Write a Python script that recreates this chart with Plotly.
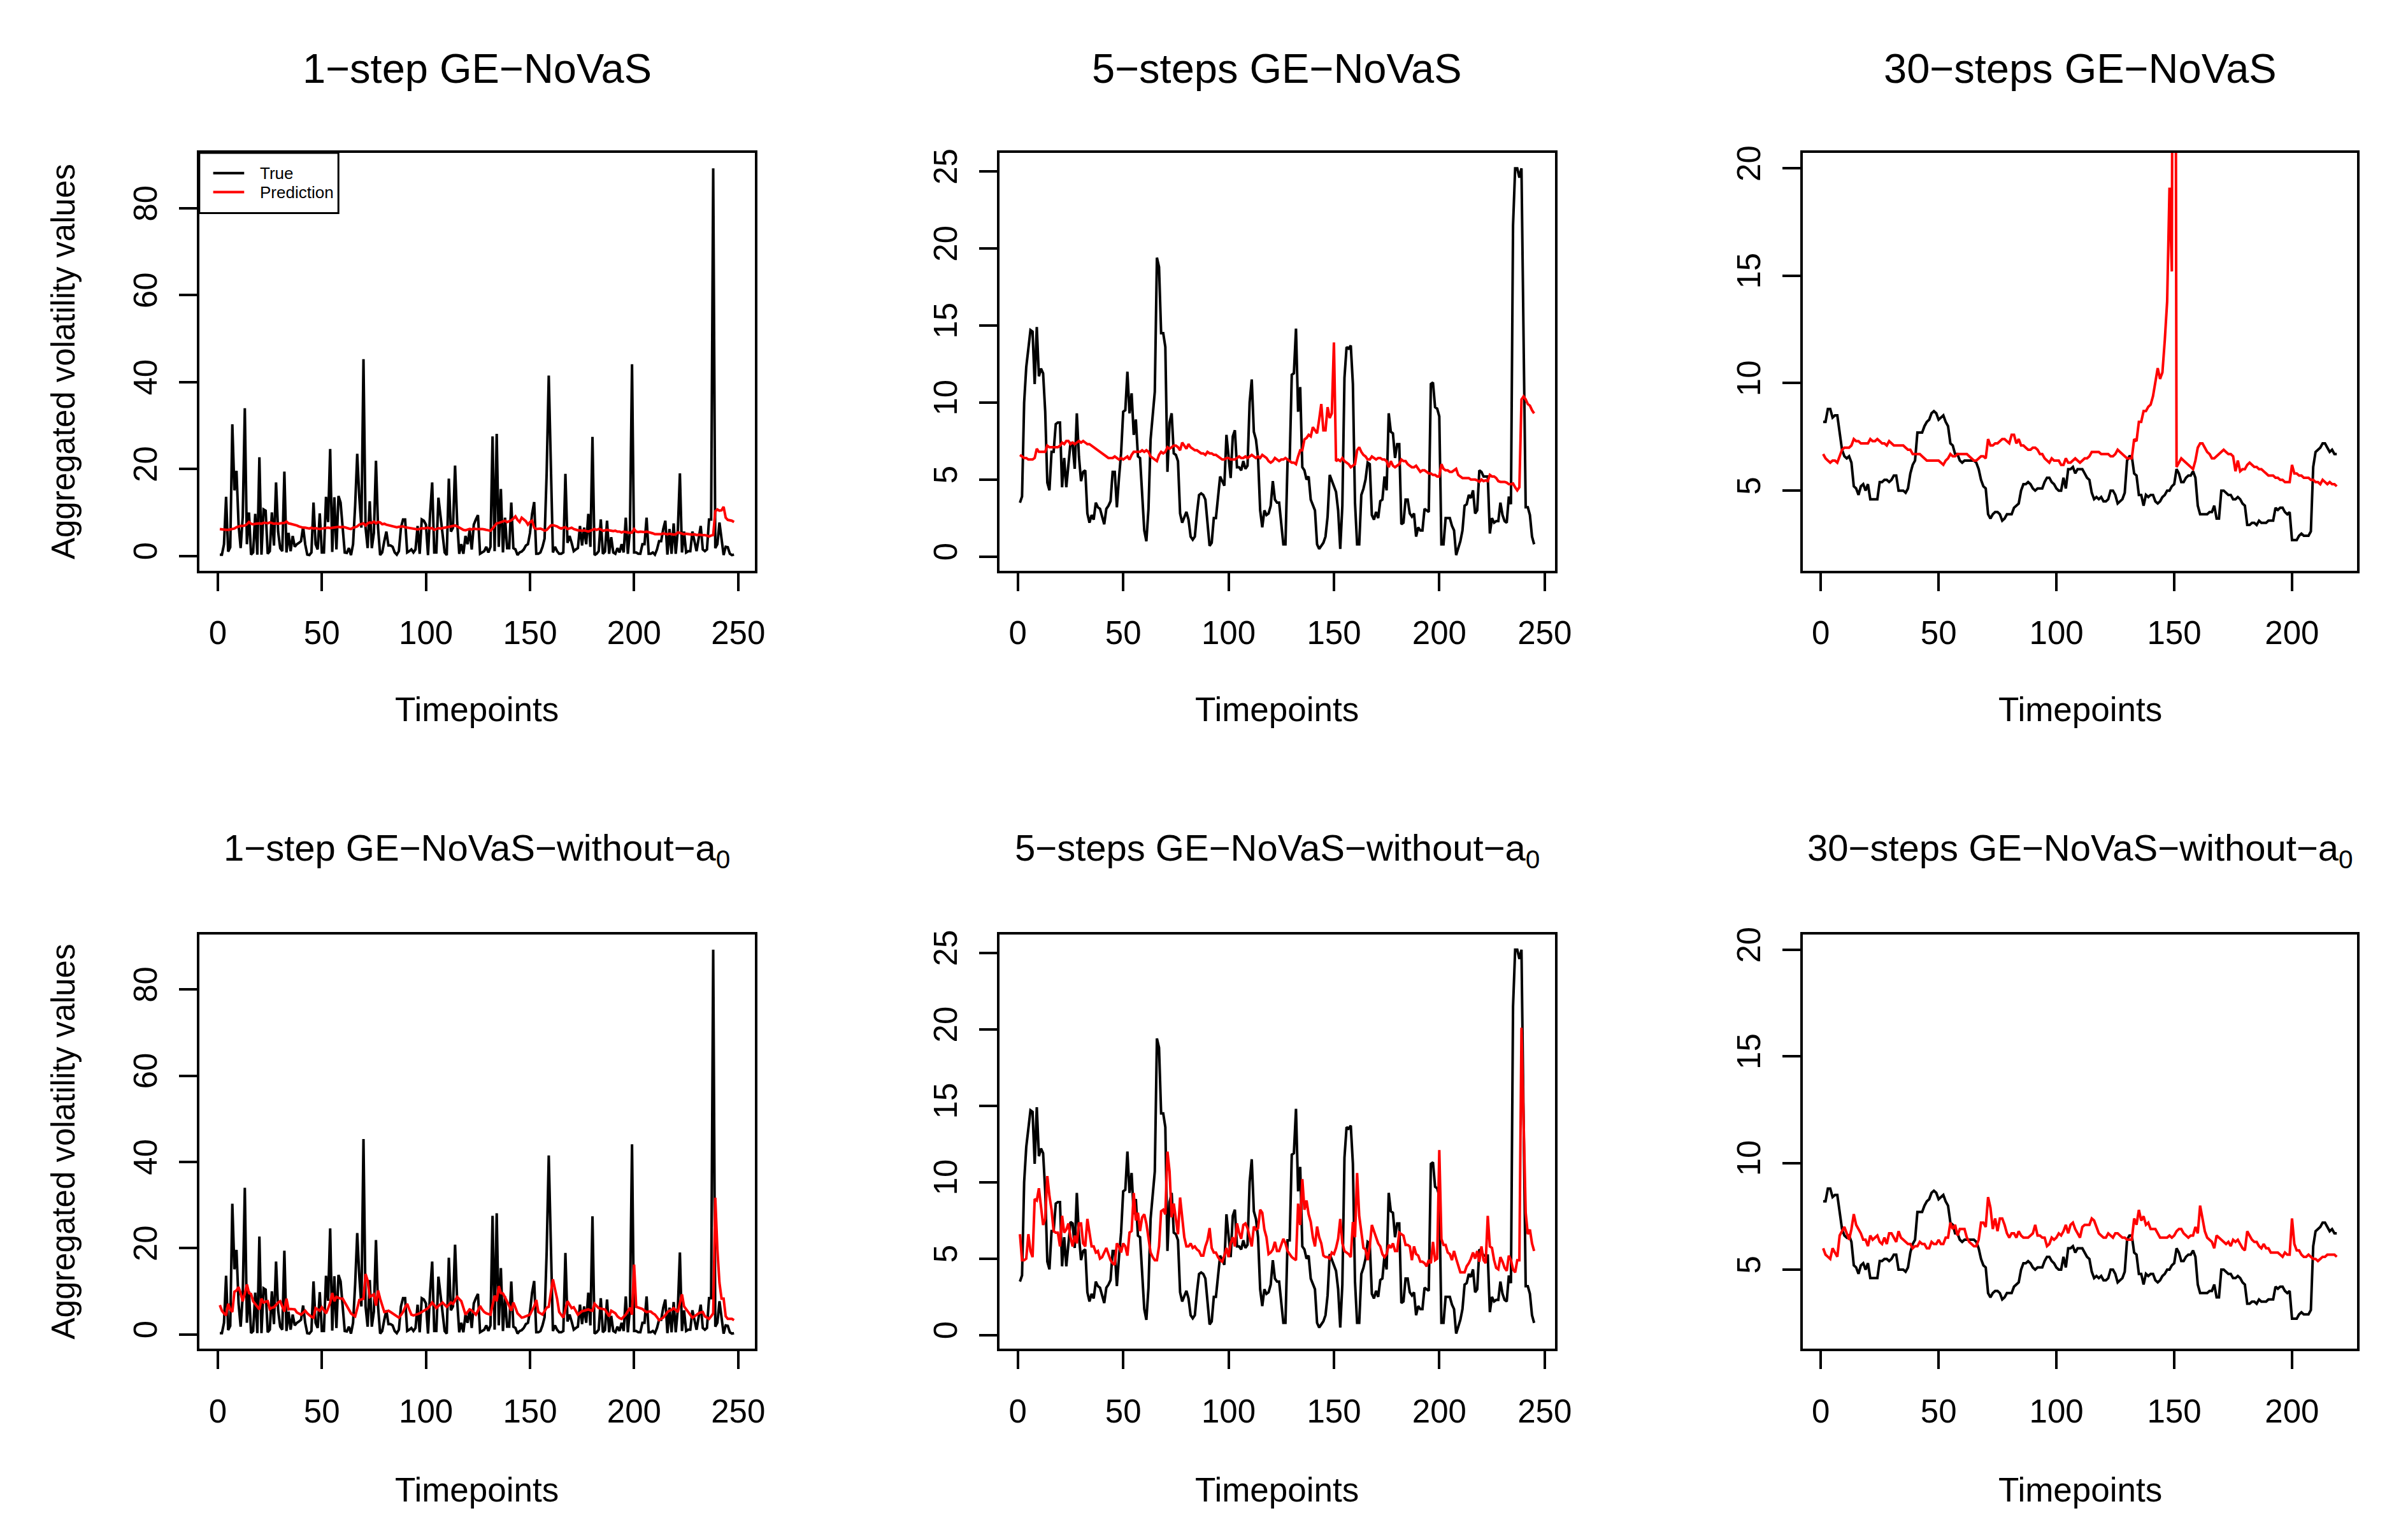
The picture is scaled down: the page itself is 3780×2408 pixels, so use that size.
import plotly.graph_objects as go

# ---------------- data ----------------
true_1step = [0.3, 0.3, 2.7, 13.6, 1.0, 2.0, 30.3, 15.1, 19.6, 7.2,
 1.8, 9.0, 34.0, 2.7, 10.0, 0.3, 0.8, 9.7, 0.3, 22.7,
 0.3, 10.7, 10.4, 0.5, 1.1, 10.0, 2.4, 16.9, 5.6, 1.8,
 1.1, 19.4, 0.8, 5.3, 1.1, 4.6, 2.1, 2.7, 3.0, 3.4,
 6.7, 2.7, 0.3, 0.2, 0.8, 12.3, 2.7, 1.5, 9.8, 0.8,
 0.8, 13.6, 7.8, 24.6, 0.9, 13.5, 1.5, 13.8, 12.3, 7.2,
 0.8, 0.7, 1.8, 0.2, 2.7, 11.6, 23.5, 13.5, 6.5, 45.3,
 6.5, 1.8, 12.6, 1.8, 5.3, 21.9, 6.5, 0.2, 0.8, 3.4,
 5.6, 2.4, 2.4, 2.1, 0.8, 0.3, 1.1, 6.5, 8.4, 8.4,
 0.8, 1.1, 1.5, 0.8, 1.5, 6.9, 0.5, 8.4, 8.1, 7.2,
 0.2, 9.7, 16.9, 0.8, 0.8, 13.4, 9.1, 5.3, 0.8, 0.2,
 17.8, 5.6, 6.5, 20.8, 7.8, 0.5, 2.7, 0.5, 4.6, 2.7,
 5.9, 1.5, 7.2, 8.4, 9.4, 0.5, 0.8, 1.1, 2.1, 0.8,
 2.1, 27.5, 1.1, 28.1, 2.1, 15.4, 0.8, 8.8, 1.8, 1.8,
 12.3, 1.8, 1.5, 0.2, 0.8, 1.0, 1.5, 2.4, 2.7, 5.3,
 9.7, 12.4, 0.5, 0.5, 0.8, 2.1, 4.0, 19.2, 41.5, 19.9,
 0.8, 2.1, 1.1, 0.5, 0.5, 0.8, 18.9, 3.0, 4.6, 3.0,
 1.1, 1.5, 1.8, 6.9, 2.4, 6.5, 2.7, 9.7, 2.1, 27.4,
 0.2, 0.5, 1.1, 8.4, 0.5, 1.0, 8.1, 0.5, 4.3, 0.8,
 0.5, 1.8, 0.8, 2.7, 0.8, 8.8, 0.5, 5.9, 44.1, 0.8,
 0.8, 0.5, 0.5, 2.7, 2.7, 8.8, 0.5, 0.5, 0.8, 0.3,
 1.5, 3.4, 3.4, 6.2, 8.1, 0.3, 6.2, 0.5, 7.5, 0.5,
 5.9, 19.0, 0.8, 5.6, 0.8, 1.1, 1.1, 5.6, 3.4, 1.1,
 4.0, 6.9, 1.5, 1.1, 1.5, 8.4, 8.4, 89.2, 1.8, 2.7,
 7.7, 3.4, 0.2, 2.1, 2.0, 0.5, 0.2, 0.3]

pred_1step = [6.2, 6.1, 6.1, 6.0, 6.0, 6.1, 6.2, 6.3, 6.6, 6.8,
 6.9, 6.9, 7.0, 7.3, 7.8, 7.4, 7.3, 7.4, 7.5, 7.5,
 7.4, 7.6, 7.6, 7.5, 7.7, 7.5, 7.4, 7.5, 7.4, 7.5,
 7.5, 7.6, 7.9, 7.5, 7.4, 7.3, 7.2, 7.0, 6.8, 6.6,
 6.5, 6.5, 6.4, 6.3, 6.5, 6.3, 6.4, 6.3, 6.2, 6.3,
 6.4, 6.4, 6.5, 6.4, 6.5, 6.5, 6.6, 6.7, 6.6, 6.7,
 6.6, 6.4, 6.3, 6.2, 6.5, 6.6, 6.8, 7.2, 7.3, 7.5,
 7.0, 7.5, 7.7, 7.6, 7.9, 7.5, 7.8, 7.7, 7.3, 7.4,
 7.2, 7.1, 7.0, 6.9, 6.7, 6.6, 6.7, 6.8, 6.8, 6.6,
 6.5, 6.4, 6.4, 6.3, 6.2, 6.1, 6.2, 6.4, 6.3, 6.4,
 6.5, 6.3, 6.4, 6.0, 6.2, 6.4, 6.3, 6.4, 6.5, 6.6,
 6.6, 6.8, 6.9, 7.0, 6.8, 6.5, 6.2, 6.0, 5.9, 6.0,
 6.2, 6.1, 6.3, 6.2, 6.2, 6.3, 6.2, 6.1, 6.0, 6.0,
 5.8, 6.3, 6.8, 7.5, 7.6, 7.8, 8.0, 8.1, 7.8, 8.0,
 8.2, 8.6, 9.1, 8.3, 7.8, 8.8, 8.4, 8.0, 7.2, 7.8,
 8.1, 6.5, 6.2, 6.2, 6.3, 6.1, 5.8, 6.0, 6.5, 7.0,
 7.1, 7.0, 6.8, 6.5, 6.3, 6.5, 6.6, 6.2, 6.4, 6.5,
 6.2, 6.0, 5.9, 5.9, 5.8, 5.9, 5.7, 5.6, 5.8, 6.0,
 6.2, 6.0, 6.2, 6.1, 5.8, 5.9, 6.0, 5.9, 5.8, 5.7,
 5.8, 5.6, 5.6, 5.4, 5.6, 5.5, 5.4, 5.3, 5.4, 6.2,
 5.6, 5.5, 5.6, 5.5, 5.5, 5.6, 5.5, 5.4, 5.2, 5.0,
 5.0, 5.1, 5.0, 5.2, 5.1, 5.0, 5.1, 5.0, 4.9, 5.0,
 5.4, 5.3, 5.2, 5.0, 5.1, 5.0, 4.9, 4.9, 5.0, 4.8,
 4.9, 4.8, 4.8, 4.8, 4.7, 4.5, 4.7, 4.8, 10.3, 10.7,
 10.4, 10.5, 11.3, 8.8, 8.3, 8.2, 8.1, 7.8]

pred_1step_noa0 = [6.8, 5.5, 4.9, 4.4, 7.1, 5.8, 5.2, 9.9, 10.2, 11.0,
 9.5, 7.7, 9.5, 11.6, 9.6, 9.4, 7.7, 7.1, 6.5, 5.8,
 8.3, 7.4, 7.6, 7.7, 5.9, 6.2, 6.3, 6.9, 7.4, 7.7,
 6.5, 5.3, 8.3, 5.8, 5.9, 5.8, 5.8, 5.1, 4.8, 4.6,
 5.0, 5.5, 4.9, 4.4, 4.1, 3.9, 6.1, 5.8, 5.5, 6.3,
 5.6, 4.9, 6.0, 7.4, 9.6, 7.7, 8.7, 8.5, 8.3, 8.3,
 7.5, 6.7, 5.8, 4.9, 4.5, 4.2, 6.0, 8.0, 8.1, 8.3,
 14.0, 12.5, 8.7, 9.0, 9.3, 6.7, 10.2, 8.3, 6.5, 5.2,
 5.3, 5.5, 5.2, 4.9, 4.5, 4.2, 3.9, 4.5, 5.2, 6.3,
 7.1, 5.8, 4.6, 4.4, 4.5, 4.7, 4.9, 5.2, 5.5, 5.8,
 6.1, 6.7, 7.4, 6.8, 6.1, 6.6, 7.1, 7.4, 6.9, 6.4,
 6.9, 7.4, 7.1, 7.9, 8.7, 8.2, 7.7, 6.2, 4.6, 5.2,
 5.8, 5.6, 5.0, 4.6, 5.5, 6.6, 5.8, 5.2, 4.9, 4.7,
 4.6, 6.8, 9.0, 7.7, 11.2, 9.6, 9.5, 8.6, 7.7, 6.6,
 5.5, 7.4, 6.2, 4.9, 4.4, 3.9, 4.0, 4.2, 4.4, 4.6,
 5.6, 6.5, 8.0, 5.2, 4.9, 4.6, 5.4, 6.2, 6.4, 9.6,
 12.8, 10.5, 8.3, 5.2, 4.5, 3.9, 5.8, 7.7, 6.9, 6.1,
 6.3, 5.4, 4.6, 5.0, 5.4, 5.5, 5.6, 5.8, 5.6, 5.5,
 7.1, 6.6, 6.1, 6.0, 5.9, 5.8, 5.0, 4.2, 5.5, 5.2,
 4.9, 4.2, 3.8, 3.6, 4.1, 4.6, 5.4, 6.2, 4.6, 16.2,
 6.4, 6.2, 6.0, 5.9, 5.5, 5.2, 5.3, 5.3, 4.9, 4.6,
 4.0, 3.3, 3.6, 3.9, 4.5, 5.2, 5.5, 5.7, 6.1, 5.6,
 5.2, 7.3, 9.3, 6.5, 5.8, 5.2, 4.5, 3.9, 4.2, 4.6,
 4.9, 5.1, 5.2, 4.2, 3.9, 3.6, 4.2, 4.9, 31.7, 19.7,
 12.0, 8.3, 8.3, 4.2, 3.6, 3.6, 3.6, 3.3]

true_5step = [3.5, 3.9, 10.0, 12.3, 13.5, 14.7, 14.6, 11.2, 14.9, 11.7,
 12.2, 11.9, 9.4, 4.8, 4.3, 6.8, 6.8, 8.6, 8.7, 8.7,
 4.5, 6.4, 4.5, 5.8, 7.4, 7.3, 5.7, 9.3, 6.5, 4.9,
 5.5, 5.6, 2.8, 2.2, 2.7, 2.4, 3.5, 3.2, 3.1, 2.6,
 2.1, 3.1, 3.3, 3.6, 5.5, 5.5, 3.2, 5.1, 6.7, 9.4,
 9.5, 12.0, 9.3, 10.6, 7.9, 8.9, 6.5, 6.4, 3.9, 1.7,
 1.0, 3.1, 7.6, 9.3, 10.7, 19.4, 18.8, 14.5, 14.5, 13.6,
 5.5, 8.7, 9.3, 6.7, 6.6, 6.2, 2.8, 2.2, 2.6, 2.9,
 2.4, 1.3, 1.1, 1.3, 2.8, 4.0, 4.1, 4.0, 3.7, 2.2,
 0.7, 0.9, 2.5, 2.5, 3.9, 5.2, 4.9, 4.6, 7.9, 6.5,
 5.1, 7.8, 8.2, 5.8, 5.8, 5.6, 6.2, 5.7, 5.9, 10.0,
 11.5, 8.1, 7.6, 6.4, 3.0, 1.9, 3.0, 2.7, 2.8, 3.3,
 4.9, 3.7, 3.5, 3.5, 2.2, 0.8, 0.8, 6.2, 6.2, 11.8,
 11.9, 14.8, 9.4, 11.0, 5.8, 5.6, 5.0, 5.2, 3.7, 3.3,
 3.0, 0.8, 0.5, 0.7, 0.9, 1.3, 2.6, 5.3, 4.9, 4.6,
 4.2, 3.0, 0.5, 3.3, 11.6, 13.6, 13.5, 13.7, 11.2, 3.5,
 0.8, 0.8, 4.0, 4.4, 5.0, 6.1, 6.0, 2.7, 2.4, 2.9,
 2.5, 3.6, 3.7, 5.2, 4.3, 9.3, 8.1, 8.0, 6.4, 7.3,
 7.3, 2.1, 2.2, 3.7, 3.7, 2.8, 2.6, 2.8, 1.3, 1.9,
 1.7, 1.7, 3.1, 3.0, 2.9, 11.2, 11.3, 9.7, 9.6, 9.1,
 0.8, 0.8, 2.5, 2.5, 2.5, 2.0, 1.7, 0.1, 0.6, 1.0,
 1.7, 3.3, 3.4, 4.0, 3.8, 4.3, 2.8, 3.0, 5.6, 5.5,
 5.2, 5.2, 5.2, 1.5, 2.5, 2.2, 2.3, 2.3, 3.5, 2.7,
 2.3, 2.2, 3.9, 3.4, 21.5, 25.2, 25.2, 24.6, 25.2, 14.1,
 3.2, 3.2, 2.7, 1.3, 0.8]

pred_5step = [6.6, 6.5, 6.4, 6.4, 6.3, 6.3, 6.3, 6.4, 7.0, 6.8,
 6.8, 6.8, 6.8, 7.2, 7.1, 7.1, 7.1, 7.1, 7.1, 7.2,
 7.4, 7.3, 7.5, 7.5, 7.3, 7.4, 7.3, 7.4, 7.5, 7.4,
 7.5, 7.4, 7.3, 7.3, 7.2, 7.1, 7.0, 6.9, 6.8, 6.7,
 6.6, 6.5, 6.4, 6.4, 6.4, 6.5, 6.4, 6.3, 6.4, 6.3,
 6.4, 6.5, 6.3, 6.6, 6.8, 6.8, 6.8, 6.8, 6.9, 6.8,
 6.9, 6.8, 6.5, 6.4, 6.3, 6.2, 6.6, 6.8, 6.7, 6.8,
 7.1, 7.0, 7.1, 7.2, 7.2, 7.1, 6.9, 7.4, 7.2, 7.0,
 7.3, 7.1, 7.0, 6.9, 6.9, 6.8, 6.7, 6.7, 6.6, 6.8,
 6.7, 6.7, 6.6, 6.6, 6.5, 6.4, 6.3, 6.3, 6.4, 6.4,
 6.3, 6.3, 6.3, 6.4, 6.5, 6.4, 6.4, 6.5, 6.4, 6.5,
 6.6, 6.5, 6.4, 6.5, 6.4, 6.6, 6.5, 6.4, 6.2, 6.1,
 6.2, 6.4, 6.3, 6.2, 6.3, 6.3, 6.4, 6.3, 6.2, 6.1,
 6.1, 6.0, 6.5, 6.9, 6.9, 7.6, 7.7, 7.9, 7.8, 8.4,
 8.2, 8.0, 8.9, 9.9, 8.2, 8.2, 9.7, 9.0, 9.3, 13.9,
 6.2, 6.3, 6.2, 6.4, 6.2, 6.1, 6.0, 5.8, 5.9, 6.0,
 6.9, 7.1, 6.8, 6.6, 6.5, 6.3, 6.3, 6.5, 6.4, 6.3,
 6.4, 6.4, 6.3, 6.3, 6.2, 5.8, 6.2, 5.9, 5.8, 5.9,
 6.0, 6.3, 6.2, 6.2, 6.0, 5.9, 5.8, 5.8, 5.9, 5.7,
 5.5, 5.6, 5.6, 5.5, 5.4, 5.4, 5.3, 5.3, 5.2, 5.2,
 6.0, 5.7, 5.6, 5.6, 5.5, 5.5, 5.6, 5.7, 5.3, 5.2,
 5.1, 5.1, 5.1, 5.1, 5.0, 5.0, 5.0, 4.95, 4.85, 5.0,
 4.9, 4.95, 4.9, 5.3, 5.2, 5.2, 5.1, 4.9, 4.85, 4.85,
 4.85, 4.8, 4.7, 4.7, 4.75, 4.5, 4.3, 4.5, 10.2, 10.4,
 10.2, 9.9, 9.8, 9.5, 9.3]

pred_5step_noa0 = [6.6, 4.9, 4.9, 5.0, 6.6, 5.5, 5.1, 8.9, 8.8, 9.6,
 8.4, 7.2, 7.6, 10.4, 9.1, 8.2, 6.8, 6.7, 6.7, 5.8,
 7.8, 6.7, 6.9, 7.3, 6.4, 5.8, 6.5, 6.0, 7.3, 7.3,
 6.0, 5.8, 7.6, 6.6, 5.8, 5.8, 5.4, 5.5, 5.0, 5.1,
 5.4, 5.7, 5.3, 4.9, 4.7, 4.6, 6.0, 5.8, 5.4, 6.0,
 5.8, 5.2, 6.7, 6.8, 9.3, 7.5, 8.0, 6.8, 7.7, 7.9,
 7.3, 6.4, 5.4, 5.1, 4.9, 4.9, 5.8, 8.1, 8.2, 7.9,
 12.0, 10.7, 7.7, 8.6, 7.6, 6.6, 9.0, 7.5, 6.4, 5.8,
 5.8, 6.0, 5.7, 5.8, 5.6, 5.5, 5.2, 5.2, 5.8, 6.2,
 7.0, 5.7, 5.4, 5.4, 5.1, 4.9, 4.8, 5.2, 5.7, 5.1,
 6.0, 6.4, 5.8, 7.3, 6.7, 6.3, 7.2, 7.3, 7.0, 6.4,
 5.8, 7.1, 6.9, 7.0, 8.2, 8.0, 6.9, 6.4, 5.3, 5.4,
 5.6, 6.1, 5.5, 5.5, 5.9, 6.3, 6.0, 5.5, 5.3, 5.1,
 5.0, 4.9, 8.6, 7.2, 10.2, 8.2, 8.8, 7.9, 7.4, 6.4,
 5.8, 7.1, 6.4, 6.0, 5.2, 5.1, 5.1, 5.0, 5.4, 5.3,
 5.7, 6.3, 7.6, 6.0, 5.5, 5.4, 5.3, 5.1, 7.4, 6.4,
 10.6, 7.8, 6.7, 5.7, 5.6, 4.9, 5.8, 7.2, 6.8, 6.4,
 6.0, 5.8, 5.3, 5.1, 5.3, 5.9, 5.7, 6.0, 5.5, 5.5,
 6.7, 6.6, 6.5, 5.9, 5.9, 5.8, 4.9, 5.8, 5.3, 5.2,
 4.8, 4.8, 4.7, 4.5, 4.9, 4.7, 6.1, 4.9, 5.0, 12.1,
 6.3, 5.9, 5.9, 5.4, 5.3, 4.9, 5.5, 5.0, 4.6, 4.1,
 4.1, 4.1, 4.5, 4.7, 5.0, 5.4, 5.0, 5.5, 4.8, 5.8,
 4.9, 4.7, 7.8, 5.8, 5.7, 4.9, 4.4, 4.3, 5.1, 4.8,
 4.4, 4.2, 5.2, 4.9, 4.3, 4.1, 4.9, 4.9, 20.1, 13.9,
 8.0, 6.6, 6.9, 6.0, 5.5]

true_30step = [8.2, 8.2, 8.8, 8.8, 8.4, 8.5, 8.5, 7.6, 6.9, 6.6,
 6.5, 6.6, 6.3, 5.2, 5.1, 4.8, 5.2, 5.3, 5.0, 5.3,
 4.6, 4.6, 4.6, 4.6, 5.4, 5.4, 5.5, 5.5, 5.4, 5.5,
 5.7, 5.7, 5.0, 5.0, 5.0, 4.9, 5.1, 5.8, 6.2, 6.4,
 7.7, 7.7, 7.7, 8.0, 8.2, 8.3, 8.6, 8.7, 8.6, 8.3,
 8.4, 8.5, 8.2, 8.0, 7.2, 7.1, 6.7, 6.7, 6.4, 6.3,
 6.4, 6.4, 6.4, 6.4, 6.4, 6.3, 6.0, 5.5, 5.2, 5.1,
 3.9, 3.7, 3.9, 4.0, 4.0, 3.9, 3.6, 3.7, 3.9, 3.9,
 3.9, 4.2, 4.3, 4.4, 5.0, 5.3, 5.3, 5.4, 5.3, 5.1,
 5.0, 5.1, 5.1, 5.1, 5.4, 5.6, 5.6, 5.4, 5.3, 5.1,
 5.0, 5.0, 5.6, 5.1, 6.0, 6.0, 6.1, 5.8, 6.0, 6.0,
 6.0, 5.8, 5.6, 5.5, 4.9, 4.6, 4.7, 4.6, 4.7, 4.5,
 4.5, 4.6, 5.0, 5.0, 4.8, 4.4, 4.5, 4.6, 4.9, 6.4,
 6.6, 6.6, 5.8, 5.7, 4.8, 4.8, 4.3, 4.8, 4.7, 4.8,
 4.8, 4.5, 4.4, 4.5, 4.7, 4.8, 5.0, 5.0, 5.2, 5.3,
 6.0, 5.8, 5.4, 5.4, 5.6, 5.7, 5.7, 5.9, 5.6, 4.3,
 3.9, 3.9, 3.9, 3.9, 4.0, 4.0, 4.3, 3.7, 3.7, 5.0,
 5.0, 4.9, 4.8, 4.8, 4.6, 4.6, 4.7, 4.6, 4.4, 4.3,
 3.4, 3.4, 3.5, 3.5, 3.4, 3.6, 3.5, 3.5, 3.5, 3.6,
 3.6, 3.6, 4.2, 4.1, 4.2, 4.2, 4.0, 3.9, 4.0, 2.7,
 2.7, 2.7, 2.9, 3.0, 2.9, 2.9, 2.9, 3.1, 6.1, 6.8,
 6.9, 7.0, 7.2, 7.2, 7.0, 6.8, 6.9, 6.7, 6.7]

pred_30step = [6.7, 6.5, 6.4, 6.3, 6.4, 6.4, 6.3, 6.6, 6.9, 7.0,
 7.0, 7.0, 7.1, 7.4, 7.3, 7.3, 7.2, 7.2, 7.2, 7.2,
 7.4, 7.3, 7.3, 7.4, 7.3, 7.2, 7.2, 7.1, 7.3, 7.2,
 7.1, 7.1, 7.1, 7.1, 7.1, 7.0, 6.9, 6.9, 6.7, 6.7,
 6.7, 6.7, 6.6, 6.5, 6.4, 6.4, 6.4, 6.4, 6.4, 6.4,
 6.3, 6.2, 6.4, 6.5, 6.7, 6.6, 6.6, 6.7, 6.7, 6.7,
 6.7, 6.7, 6.6, 6.5, 6.4, 6.4, 6.5, 6.6, 6.6, 6.5,
 7.4, 7.1, 7.1, 7.2, 7.2, 7.3, 7.4, 7.4, 7.3, 7.2,
 7.6, 7.6, 7.2, 7.4, 7.1, 7.1, 7.0, 6.9, 6.9, 7.0,
 7.0, 6.9, 6.7, 6.7, 6.5, 6.4, 6.3, 6.5, 6.4, 6.4,
 6.4, 6.2, 6.2, 6.5, 6.3, 6.3, 6.4, 6.5, 6.4, 6.3,
 6.4, 6.5, 6.5, 6.6, 6.8, 6.8, 6.8, 6.8, 6.7, 6.7,
 6.7, 6.7, 6.6, 6.6, 6.7, 6.9, 6.8, 6.7, 6.6, 6.5,
 6.5, 6.5, 7.4, 7.3, 8.2, 8.2, 8.7, 8.7, 8.9, 9.0,
 9.4, 10.0, 10.7, 10.2, 10.5, 12.0, 13.8, 19.1, 15.2, 60.0,
 6.1, 6.3, 6.5, 6.4, 6.3, 6.2, 6.1, 6.0, 6.4, 7.0,
 7.2, 7.2, 7.0, 6.8, 6.7, 6.5, 6.5, 6.6, 6.7, 6.8,
 6.9, 6.8, 6.7, 6.7, 6.6, 5.9, 6.4, 5.9, 6.0, 6.0,
 6.2, 6.3, 6.2, 6.1, 6.1, 6.0, 6.0, 5.9, 5.8, 5.7,
 5.7, 5.7, 5.6, 5.6, 5.5, 5.5, 5.4, 5.4, 5.4, 6.2,
 5.8, 5.8, 5.7, 5.7, 5.6, 5.6, 5.6, 5.5, 5.5, 5.4,
 5.4, 5.3, 5.5, 5.4, 5.3, 5.4, 5.3, 5.3, 5.2]

pred_30step_noa0 = [6.0, 5.7, 5.6, 5.5, 6.0, 5.8, 5.6, 6.6, 6.8, 7.0,
 6.7, 6.4, 6.9, 7.6, 7.1, 6.9, 6.7, 6.4, 6.4, 6.1,
 6.6, 6.4, 6.5, 6.6, 6.3, 6.2, 6.5, 6.2, 6.7, 6.7,
 6.5, 6.3, 6.8, 6.5, 6.4, 6.3, 6.2, 6.2, 6.0, 6.1,
 6.1, 6.3, 6.2, 6.2, 6.0, 6.0, 6.3, 6.2, 6.2, 6.4,
 6.2, 6.2, 6.5, 6.5, 7.2, 6.9, 7.1, 6.6, 6.9, 6.9,
 6.9, 6.5, 6.3, 6.2, 6.1, 6.1, 6.4, 7.2, 7.2, 7.0,
 8.4, 7.9, 6.9, 7.4, 6.8, 7.4, 7.4, 7.1, 6.7, 6.5,
 6.7, 6.7, 6.5, 6.8, 6.6, 6.5, 6.5, 6.5, 6.6, 6.7,
 7.1, 6.6, 6.6, 6.5, 6.5, 6.1, 6.2, 6.5, 6.4, 6.5,
 6.7, 6.6, 6.8, 7.1, 6.7, 7.1, 7.2, 6.9, 6.7, 6.5,
 7.0, 7.1, 7.1, 7.1, 7.4, 7.3, 7.0, 6.7, 6.6, 6.5,
 6.5, 6.7, 6.6, 6.5, 6.7, 6.7, 6.6, 6.5, 6.5, 6.4,
 6.4, 6.4, 7.4, 7.1, 7.8, 7.3, 7.5, 7.1, 7.2, 6.9,
 6.9, 6.9, 6.7, 6.5, 6.5, 6.5, 6.5, 6.6, 6.5, 6.6,
 6.8, 6.9, 6.9, 6.7, 6.6, 6.5, 6.6, 6.6, 7.0, 6.7,
 8.0, 7.4, 6.8, 6.5, 6.4, 6.3, 6.0, 6.6, 6.5, 6.4,
 6.3, 6.2, 6.3, 6.1, 6.4, 6.3, 6.4, 6.2, 6.0, 5.9,
 6.8, 6.6, 6.4, 6.3, 6.3, 6.1, 6.0, 6.2, 6.0, 6.0,
 5.8, 5.8, 5.8, 5.8, 5.7, 5.6, 5.8, 5.7, 5.7, 7.4,
 6.2, 5.9, 5.9, 5.7, 5.6, 5.6, 5.7, 5.6, 5.5, 5.5,
 5.4, 5.5, 5.6, 5.6, 5.7, 5.7, 5.7, 5.7, 5.6]

titles = ["1\u2212step GE\u2212NoVaS", "5\u2212steps GE\u2212NoVaS", "30\u2212steps GE\u2212NoVaS",
          "1\u2212step GE\u2212NoVaS\u2212without\u2212a<sub>0</sub>",
          "5\u2212steps GE\u2212NoVaS\u2212without\u2212a<sub>0</sub>",
          "30\u2212steps GE\u2212NoVaS\u2212without\u2212a<sub>0</sub>"]
x_ticks_long = [0, 50, 100, 150, 200, 250]
x_ticks_short = [0, 50, 100, 150, 200]
y_ticks_1 = [0, 20, 40, 60, 80]
y_ticks_5 = [0, 5, 10, 15, 20, 25]
y_ticks_30 = [5, 10, 15, 20]
ylim_30 = (2, 20)
x_label = "Timepoints"
y_label = "Aggregated volatility values"
legend_names = ["True", "Prediction"]
series_colors = ["#000000", "#FF0000"]

# ---------------- layout helpers ----------------
W, H = 3780, 2408
FONT = "Liberation Sans, Arial, Helvetica, sans-serif"


def r_pad(lo, hi):
    d = hi - lo
    return [lo - 0.04 * d, hi + 0.04 * d]


def px(v):
    return v / W


def py(v):
    return 1 - v / H


col_px = [(307, 1185), (1572, 2450), (2842, 3719)]
row_px = [(221, 880), (1454, 2108)]
title_px = [88, 1322]
xlab_px = [1099, 2330]
title_sizes = [65, 58]
xdom = [[px(a), px(b)] for a, b in col_px]
ydom = [[py(b), py(a)] for a, b in row_px]

panels = [
    (true_1step, pred_1step, x_ticks_long, y_ticks_1, None),
    (true_5step, pred_5step, x_ticks_long, y_ticks_5, None),
    (true_30step, pred_30step, x_ticks_short, y_ticks_30, ylim_30),
    (true_1step, pred_1step_noa0, x_ticks_long, y_ticks_1, None),
    (true_5step, pred_5step_noa0, x_ticks_long, y_ticks_5, None),
    (true_30step, pred_30step_noa0, x_ticks_short, y_ticks_30, ylim_30),
]

fig = go.Figure()
layout = dict(
    width=W, height=H, autosize=False,
    margin=dict(l=0, r=0, t=0, b=0),
    paper_bgcolor="white", plot_bgcolor="white",
    font=dict(family=FONT, color="black", size=51),
    showlegend=False,
)
annotations = []
shapes = []

for i, (tr, pr, xt, yt, ylim) in enumerate(panels):
    r, c = divmod(i, 3)
    k = i + 1
    xname = "x" if k == 1 else f"x{k}"
    yname = "y" if k == 1 else f"y{k}"
    for name, ys, col in ((legend_names[0], tr, series_colors[0]), (legend_names[1], pr, series_colors[1])):
        fig.add_trace(go.Scatter(x=list(range(1, len(ys) + 1)), y=ys, mode="lines", name=name,
                                 line=dict(color=col, width=4), xaxis=xname, yaxis=yname))
    n = len(tr)
    xr = [1 - 0.04 * (n - 1), n + 0.04 * (n - 1)]
    yr = r_pad(min(tr), max(tr)) if ylim is None else r_pad(ylim[0], ylim[1])
    ax_common = dict(showline=True, linecolor="black", linewidth=4, mirror=True,
                     ticks="outside", ticklen=28, tickwidth=4, tickcolor="black",
                     showgrid=False, zeroline=False, fixedrange=True,
                     tickfont=dict(size=51, family=FONT, color="black"))
    xkey = "xaxis" if k == 1 else f"xaxis{k}"
    ykey = "yaxis" if k == 1 else f"yaxis{k}"
    layout[xkey] = dict(domain=xdom[c], anchor=yname, range=xr, tickmode="array",
                        tickvals=xt, ticktext=[str(v) for v in xt], ticklabelstandoff=22,
                        **ax_common)
    layout[ykey] = dict(domain=ydom[r], anchor=xname, range=yr, tickmode="array",
                        tickvals=yt, ticktext=[str(v) for v in yt], tickangle=-90,
                        ticklabelstandoff=14, **ax_common)
    xc = (xdom[c][0] + xdom[c][1]) / 2
    annotations.append(dict(text=titles[i], x=xc, y=py(title_px[r]),
                            xref="paper", yref="paper", xanchor="center", yanchor="middle",
                            showarrow=False, font=dict(size=title_sizes[r], family=FONT, color="black")))
    annotations.append(dict(text=x_label, x=xc, y=py(xlab_px[r]),
                            xref="paper", yref="paper", xanchor="center", yanchor="middle",
                            showarrow=False, font=dict(size=53, family=FONT, color="black")))
    if c == 0:
        yc = (ydom[r][0] + ydom[r][1]) / 2
        annotations.append(dict(text=y_label, x=px(92), y=yc, textangle=-90,
                                xref="paper", yref="paper", xanchor="center", yanchor="middle",
                                showarrow=False, font=dict(size=51, family=FONT, color="black")))

# legend box in the top-left corner of the first panel (as R's legend("topleft"))
lg_left, lg_right = col_px[0][0], 527
lg_top, lg_bot = row_px[0][0], row_px[0][0] + 95
shapes.append(dict(type="rect", xref="paper", yref="paper", layer="above",
                   x0=px(lg_left), x1=px(lg_right), y0=py(lg_bot), y1=py(lg_top),
                   line=dict(color="black", width=3), fillcolor="white"))
for j, (name, col) in enumerate(zip(legend_names, series_colors)):
    yy = lg_top + 32 + j * 30
    shapes.append(dict(type="line", xref="paper", yref="paper", layer="above",
                       x0=px(lg_left + 22), x1=px(lg_left + 71), y0=py(yy), y1=py(yy),
                       line=dict(color=col, width=4)))
    annotations.append(dict(text=name, x=px(lg_left + 94), y=py(yy), xref="paper", yref="paper",
                            xanchor="left", yanchor="middle", showarrow=False,
                            font=dict(size=26, family=FONT, color="black")))

layout["annotations"] = annotations
layout["shapes"] = shapes
fig.update_layout(**layout)
fig.write_html("out.html")
